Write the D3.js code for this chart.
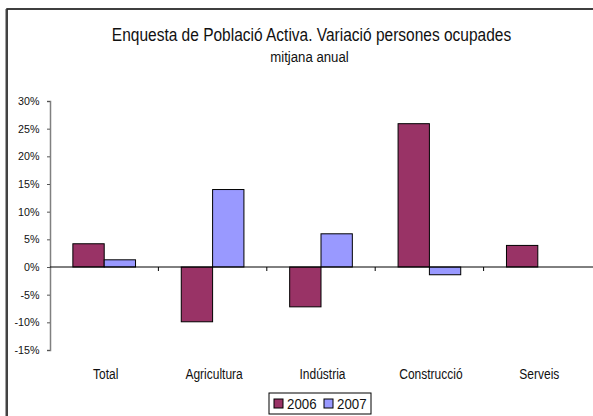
<!DOCTYPE html>
<html><head><meta charset="utf-8">
<script src="https://cdn.jsdelivr.net/npm/d3@7"></script>
<style>
html,body{margin:0;padding:0;background:#fff;}
svg{display:block;}
text{font-family:"Liberation Sans",Arial,sans-serif;fill:#111;}
</style></head>
<body>
<script>
const categories = ["Total","Agricultura","Indústria","Construcció","Serveis"];
const seriesNames = ["2006","2007"];
const values2006 = [4.2, -9.9, -7.2, 25.9, 3.9];
const values2007 = [1.3, 14.0, 6.0, -1.4, 0];
const yTicks = [-15,-10,-5,0,5,10,15,20,25,30];
const colors = ["#993366","#9999FF"];

(function(){
const W = 593, H = 416;
const svg = d3.select("body").append("svg").attr("width",W).attr("height",H);

function label(parent, x, y, str, size, sx, anchor){
  return parent.append("text")
    .attr("transform",`translate(${x},${y}) scale(${sx},1)`)
    .attr("text-anchor",anchor||"middle")
    .attr("font-size",size).text(str);
}

// chart border (cut at right/bottom)
svg.append("rect").attr("x",7).attr("y",9).attr("width",W+10).attr("height",H+10)
  .attr("fill","#fff").attr("stroke","#000").attr("stroke-width",1.5);
svg.append("line").attr("x1",6.5).attr("x2",6.5).attr("y1",9).attr("y2",H)
  .attr("stroke","#444").attr("stroke-width",2);

label(svg, 311.5, 41, "Enquesta de Població Activa. Variació persones ocupades", 17.7, 0.876);
label(svg, 309.5, 62, "mitjana anual", 15, 0.88);

const pl = 50, pr = 592, pt = 101, pb = 350;
const y = d3.scaleLinear().domain([-15,30]).range([pb, pt]);
const x0 = d3.scaleBand().domain(categories).range([pl,pr]).padding(0);
const x1 = d3.scaleBand().domain(seriesNames).range([0,x0.bandwidth()]).paddingInner(0).paddingOuter(0.73);

const data = categories.map((c,i)=>({cat:c, vals:[values2006[i], values2007[i]]}));

// y axis
const yAxis = d3.axisLeft(y).tickValues(yTicks).tickSize(3).tickFormat("");
const gy = svg.append("g").attr("transform",`translate(${pl},0)`).call(yAxis);
gy.select(".domain").attr("stroke","#808080").attr("stroke-width",1.5);
gy.selectAll(".tick line").attr("stroke","#555");
yTicks.forEach(t=>{
  label(svg, 39.5, y(t)+4, t+"%", 11.5, 0.93, "end");
});

// bars
const g = svg.append("g");
data.forEach(d=>{
  d.vals.forEach((v,j)=>{
    if (v === 0) return;
    g.append("rect")
      .attr("x", x0(d.cat)+x1(seriesNames[j]))
      .attr("width", x1.bandwidth())
      .attr("y", y(Math.max(0,v)))
      .attr("height", Math.abs(y(v)-y(0)))
      .attr("fill", colors[j]).attr("stroke","#000").attr("stroke-width",1);
  });
});

// x axis line at zero
svg.append("line").attr("x1",pl).attr("x2",pr+1).attr("y1",y(0)).attr("y2",y(0))
  .attr("stroke","#000").attr("stroke-width",1);
categories.slice(1).forEach(c=>{
  svg.append("line").attr("x1",x0(c)).attr("x2",x0(c)).attr("y1",y(0)).attr("y2",y(0)+4)
    .attr("stroke","#000");
});
categories.forEach(c=>{
  label(svg, x0(c)+x0.bandwidth()/2+1.5, 379, c, 15, 0.8);
});

// legend
const lg = svg.append("g").attr("transform","translate(269,393)");
lg.append("rect").attr("x",0).attr("y",0).attr("width",102).attr("height",21)
  .attr("fill","#fff").attr("stroke","#000");
seriesNames.forEach((s,i)=>{
  const ox = 5 + i*50;
  lg.append("rect").attr("x",ox).attr("y",6).attr("width",9).attr("height",9)
    .attr("fill",colors[i]).attr("stroke","#000");
  label(lg, ox+13, 16, s, 14, 0.95, "start");
});
})();
</script>
</body></html>
